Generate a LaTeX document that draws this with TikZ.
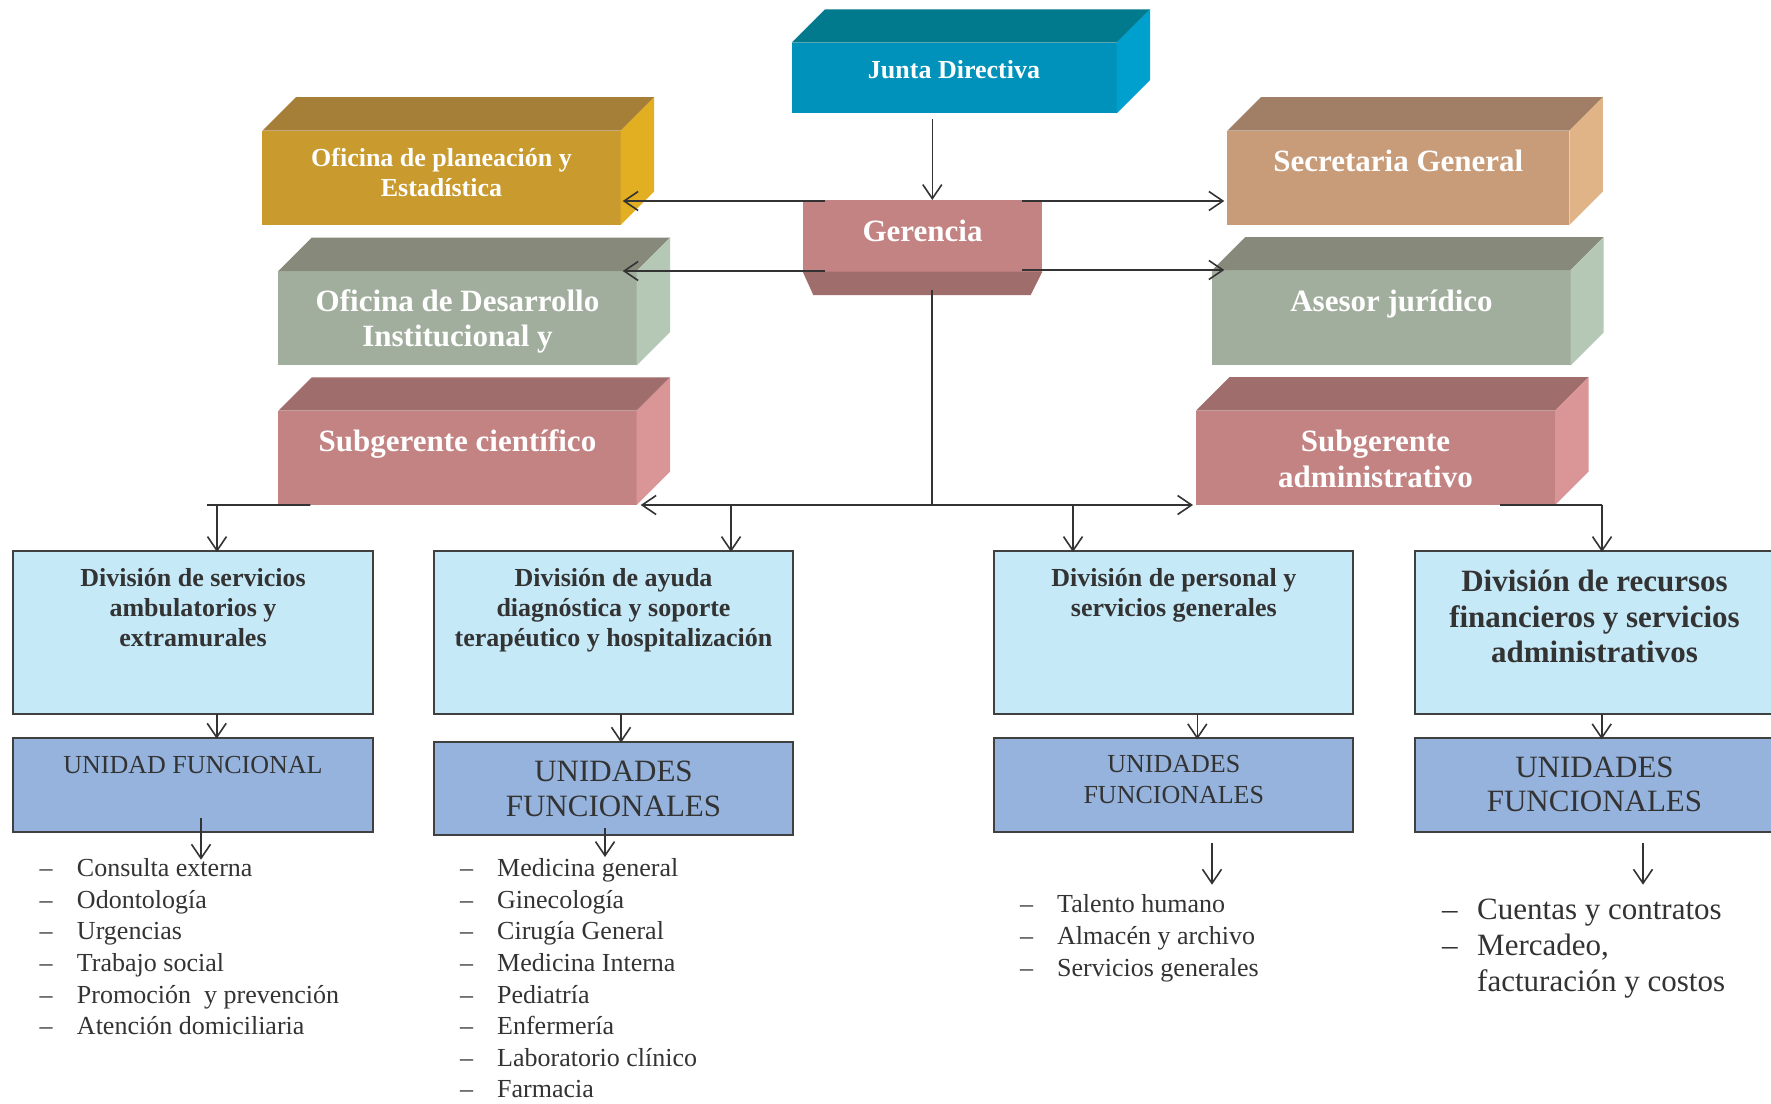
\documentclass[tikz,border=0pt]{standalone}
\usepackage{fontspec}
\setmainfont{Liberation Serif}
\usetikzlibrary{arrows.meta}
\definecolor{lc}{HTML}{333333}
\definecolor{bd}{HTML}{404040}
\definecolor{txt}{HTML}{333333}
\definecolor{divc}{HTML}{C6E9F8}
\definecolor{ufc}{HTML}{95B3DC}
\definecolor{juF}{HTML}{0092BA}\definecolor{juT}{HTML}{007A8C}\definecolor{juS}{HTML}{00A0CE}
\definecolor{plF}{HTML}{C99A2E}\definecolor{plT}{HTML}{A57E37}\definecolor{plS}{HTML}{E2AF22}
\definecolor{grF}{HTML}{A2AE9D}\definecolor{grT}{HTML}{878A7B}\definecolor{grS}{HTML}{B5C8B6}
\definecolor{seF}{HTML}{C89B79}\definecolor{seT}{HTML}{A17F66}\definecolor{seS}{HTML}{E1B488}
\definecolor{rdF}{HTML}{C48383}\definecolor{rdT}{HTML}{A06D6D}\definecolor{rdS}{HTML}{DA9596}
\newcommand\mkcube[4]{%
  \fill[#2] (#1.north west) -- ([shift={(#4,-#4)}]#1.north west) -- ([shift={(#4,-#4)}]#1.north east) -- (#1.north east) -- cycle;
  \fill[#3] (#1.north east) -- ([shift={(#4,-#4)}]#1.north east) -- ([shift={(#4,-#4)}]#1.south east) -- (#1.south east) -- cycle;}
\tikzset{
  face/.style={rectangle, inner sep=0pt, outer sep=0pt, anchor=north west, draw=none},
  divbox/.style={rectangle, inner sep=0pt, outer sep=0pt, anchor=north west, draw=bd, line width=2pt, fill=divc},
  ufbox/.style={divbox, fill=ufc},
  hd/.style={font=\fontsize{26}{30}\selectfont\bfseries, text=white, anchor=base, inner sep=0pt},
  hdL/.style={font=\fontsize{31}{35}\selectfont\bfseries, text=white, anchor=base, inner sep=0pt},
  dt/.style={font=\fontsize{26}{30}\selectfont\bfseries, text=txt, anchor=base, inner sep=0pt},
  dtL/.style={font=\fontsize{31}{35}\selectfont\bfseries, text=txt, anchor=base, inner sep=0pt},
  uf/.style={font=\fontsize{26}{30}\selectfont, text=txt, anchor=base, inner sep=0pt},
  ufL/.style={font=\fontsize{31}{35}\selectfont, text=txt, anchor=base, inner sep=0pt},
  li/.style={font=\fontsize{26}{30}\selectfont, text=txt, anchor=base west, inner sep=0pt},
  liL/.style={font=\fontsize{31}{35}\selectfont, text=txt, anchor=base west, inner sep=0pt},
  conn/.style={draw=lc, line width=1.6pt},
  arr/.style={conn, -{Straight Barb[length=14pt,width=19pt]}},
  darr/.style={conn, {Straight Barb[length=14pt,width=19pt]}-{Straight Barb[length=14pt,width=19pt]}}
}
\begin{document}
\begin{tikzpicture}[x=1pt,y=-1pt]
\useasboundingbox[fill=white] (0,0) rectangle (1771,1103);

% ---- 3D boxes ----
\node[face, fill=juF, minimum width=325pt, minimum height=70.6pt] (junta) at (791.7,42.7) {};
\mkcube{junta}{juT}{juS}{33.3}
\node[face, fill=plF, minimum width=358.4pt, minimum height=94.3pt] (plan) at (262.3,130.7) {};
\mkcube{plan}{plT}{plS}{33.5}
\node[face, fill=grF, minimum width=358.4pt, minimum height=94.3pt] (des) at (278.3,271) {};
\mkcube{des}{grT}{grS}{33.4}
\node[face, fill=seF, minimum width=342pt, minimum height=94.3pt] (sec) at (1227.3,130.7) {};
\mkcube{sec}{seT}{seS}{33.5}
\node[face, fill=grF, minimum width=358.4pt, minimum height=95.3pt] (ase) at (1212.3,270) {};
\mkcube{ase}{grT}{grS}{33}
\node[face, fill=rdF, minimum width=358.4pt, minimum height=94.3pt] (sc) at (278.3,410.7) {};
\mkcube{sc}{rdT}{rdS}{33.4}
\node[face, fill=rdF, minimum width=359pt, minimum height=94.3pt] (sa) at (1196,410.7) {};
\mkcube{sa}{rdT}{rdS}{33.5}
\node[face, fill=rdF, minimum width=239.6pt, minimum height=71.7pt] (ger) at (802.7,200) {};
\fill[rdT] (ger.south west) -- (ger.south east) -- ([shift={(-11.6,23.3)}]ger.south east) -- ([shift={(10.6,23.3)}]ger.south west) -- cycle;

% ---- texts on 3D boxes ----
\node[hd] (juntaT) at (954,78.3) {Junta Directiva};
\node[hdL] (gerT) at (922.5,241.7) {Gerencia};
\node[hd] (planT1) at (441.5,166.7) {Oficina de planeación y};
\node[hd] (planT2) at (441.5,196) {Estadística};
\node[hdL] (desT1) at (457.5,311.7) {Oficina de Desarrollo};
\node[hdL] (desT2) at (457.5,346.7) {Institucional y};
\node[hdL] (secT) at (1398.3,171.7) {Secretaria General};
\node[hdL] (aseT) at (1391.5,311.7) {Asesor jurídico};
\node[hdL] (scT) at (457.5,451.7) {Subgerente científico};
\node[hdL] (saT1) at (1375.5,451.7) {Subgerente};
\node[hdL] (saT2) at (1375.5,487.3) {administrativo};

% ---- division boxes ----
\node[divbox, minimum width=359.4pt, minimum height=163.3pt] (d1) at (13.3,551) {};
\node[divbox, minimum width=358.4pt, minimum height=163.3pt] (d2) at (434.3,551) {};
\node[divbox, minimum width=359pt, minimum height=163.3pt] (d3) at (994.3,551) {};
\node[divbox, minimum width=359pt, minimum height=163.3pt] (d4) at (1415,551) {};
\node[ufbox, minimum width=359.4pt, minimum height=94pt] (d1u) at (13.3,737.7) {};
\node[ufbox, minimum width=358.4pt, minimum height=93.3pt] (d2u) at (434.3,741.7) {};
\node[ufbox, minimum width=359pt, minimum height=93.4pt] (d3u) at (994.3,738.3) {};
\node[ufbox, minimum width=359pt, minimum height=93.4pt] (d4u) at (1415,738.3) {};

\node[dt] (d1a) at (193,586.7) {División de servicios};
\node[dt] (d1b) at (193,616.7) {ambulatorios y};
\node[dt] (d1c) at (193,646.7) {extramurales};
\node[dt] (d2a) at (613.5,586.7) {División de ayuda};
\node[dt] (d2b) at (613.5,616.7) {diagnóstica y soporte};
\node[dt] (d2c) at (613.5,646.7) {terapéutico y hospitalización};
\node[dt] (d3a) at (1173.8,586.7) {División de personal y};
\node[dt] (d3b) at (1173.8,616.7) {servicios generales};
\node[dtL] (d4a) at (1594.5,591.7) {División de recursos};
\node[dtL] (d4b) at (1594.5,627.3) {financieros y servicios};
\node[dtL] (d4c) at (1594.5,662.7) {administrativos};

\node[uf] (u1a) at (193,773.3) {UNIDAD FUNCIONAL};
\node[ufL] (u2a) at (613.5,781.7) {UNIDADES};
\node[ufL] (u2b) at (613.5,816.7) {FUNCIONALES};
\node[uf] (u3a) at (1173.8,772.3) {UNIDADES};
\node[uf] (u3b) at (1173.8,803.3) {FUNCIONALES};
\node[ufL] (u4a) at (1594.5,777.3) {UNIDADES};
\node[ufL] (u4b) at (1594.5,811.7) {FUNCIONALES};

% ---- lists ----
\node[li] (l11) at (39.5,876.7) {\makebox[37.3pt][l]{–}Consulta externa};
\node[li] (l12) at (39.5,908.3) {\makebox[37.3pt][l]{–}Odontología};
\node[li] (l13) at (39.5,939.9) {\makebox[37.3pt][l]{–}Urgencias};
\node[li] (l14) at (39.5,971.5) {\makebox[37.3pt][l]{–}Trabajo social};
\node[li] (l15) at (39.5,1003.1) {\makebox[37.3pt][l]{–}Promoción\ \ y prevención};
\node[li] (l16) at (39.5,1034.7) {\makebox[37.3pt][l]{–}Atención domiciliaria};

\node[li] (l21) at (460,876.7) {\makebox[37pt][l]{–}Medicina general};
\node[li] (l22) at (460,908.3) {\makebox[37pt][l]{–}Ginecología};
\node[li] (l23) at (460,939.9) {\makebox[37pt][l]{–}Cirugía General};
\node[li] (l24) at (460,971.5) {\makebox[37pt][l]{–}Medicina Interna};
\node[li] (l25) at (460,1003.1) {\makebox[37pt][l]{–}Pediatría};
\node[li] (l26) at (460,1034.7) {\makebox[37pt][l]{–}Enfermería};
\node[li] (l27) at (460,1066.3) {\makebox[37pt][l]{–}Laboratorio clínico};
\node[li] (l28) at (460,1097.9) {\makebox[37pt][l]{–}Farmacia};

\node[li] (l31) at (1020,912.6) {\makebox[37pt][l]{–}Talento humano};
\node[li] (l32) at (1020,944.6) {\makebox[37pt][l]{–}Almacén y archivo};
\node[li] (l33) at (1020,976.6) {\makebox[37pt][l]{–}Servicios generales};

\node[liL] (l41) at (1442,919.4) {\makebox[35pt][l]{–}Cuentas y contratos};
\node[liL] (l42) at (1442,955.6) {\makebox[35pt][l]{–}Mercadeo,};
\node[liL] (l43) at (1477,991.7) {facturación y costos};

% ---- connectors ----
\coordinate (jg) at (932.3,119);
\draw[arr] (jg) -- (jg |- ger.north);
\draw[arr] ([xshift=22pt,yshift=-1pt]ger.north west) -- ([xshift=2pt,yshift=-1pt]ger.north west -| plan.east);
\draw[arr] ([xshift=-20pt,yshift=-1pt]ger.north east) -- ([xshift=-3pt,yshift=-1pt]ger.north east -| sec.west);
\draw[arr] ([xshift=22pt]des.north east -| ger.south west) -- ([xshift=-14pt]des.north east);
\draw[arr] ([xshift=-20pt]ase.north west -| ger.south east) -- ([xshift=12pt]ase.north west);

\coordinate (hub) at (932,505);
\draw[conn] ([yshift=-18pt]hub |- ger.south) -- (hub);
\draw[darr] ([shift={(4,0)}]sc.south east) -- ([shift={(-3,0)}]sa.south west);

\coordinate (a1) at (217,505);
\coordinate (a2) at (731,505);
\coordinate (a3) at (1073,505);
\coordinate (a4) at (1602,505);
\draw[conn] ([xshift=32pt]sc.south west) -- ([xshift=-10pt]a1);
\draw[arr] (a1) -- ([yshift=-1pt]a1 |- d1.north);
\draw[arr] (a2) -- ([yshift=-1pt]a2 |- d2.north);
\draw[arr] (a3) -- ([yshift=-1pt]a3 |- d3.north);
\draw[conn] ([xshift=-55pt]sa.south east) -- (a4);
\draw[arr] (a4) -- ([yshift=-1pt]a4 |- d4.north);

\draw[arr] ([xshift=23.7pt]d1.south) -- ([xshift=23.7pt,yshift=-1pt]d1u.north);
\draw[arr] ([xshift=7.5pt]d2.south) -- ([xshift=7.5pt,yshift=-1pt]d2u.north);
\draw[arr] ([xshift=23.5pt]d3.south) -- ([xshift=23.5pt,yshift=-1pt]d3u.north);
\draw[arr] ([xshift=7.2pt]d4.south) -- ([xshift=7.2pt,yshift=-1pt]d4u.north);

\draw[arr] ([shift={(8,-14)}]d1u.south) -- ++(0,42);
\draw[arr] ([shift={(-8.5,-7)}]d2u.south) -- ++(0,29);
\draw[arr] ([shift={(38.2,11)}]d3u.south) -- ++(0,42);
\draw[arr] ([shift={(48.5,11)}]d4u.south) -- ++(0,42);
\end{tikzpicture}
\end{document}
